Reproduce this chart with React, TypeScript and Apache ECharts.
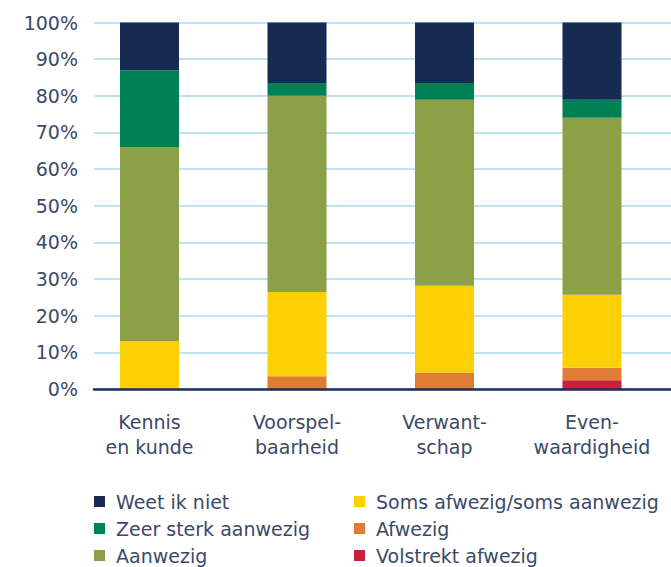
import React, { useEffect, useRef } from "react";
import * as echarts from "echarts";

const categories = ["Kennis\nen kunde", "Voorspel-\nbaarheid", "Verwant-\nschap", "Even-\nwaardigheid"];
const yTicks = [0, 10, 20, 30, 40, 50, 60, 70, 80, 90, 100];

const volstrektAfwezig = [0, 0, 0, 2.4];
const afwezig = [0, 3.5, 4.5, 3.4];
const somsAfwezig = [13, 23, 23.7, 19.9];
const aanwezig = [53, 53.5, 50.7, 48.3];
const zeerSterk = [21, 3.5, 4.6, 4.9];
const weetIkNiet = [13, 16.5, 16.5, 21.1];

const FONT = "DejaVu Sans";
const TEXT = "#3b4968";

export default function App() {
  const ref = useRef<HTMLDivElement>(null);
  useEffect(() => {
    const chart = echarts.init(ref.current!, null, { renderer: "svg" });
    const top = 22.5;
    const height = 366.5;
    const mk = (name: string, data: number[], color: string) => ({
      name,
      type: "bar",
      stack: "total",
      xAxisIndex: 1,
      yAxisIndex: 1,
      barWidth: 59,
      data,
      itemStyle: { color },
    });
    const legendText = { fontFamily: FONT, fontSize: 19, color: TEXT, lineHeight: 20, padding: [0, 0, 0, 6] };
    const legendBase = {
      orient: "vertical",
      top: 491.5,
      height: 80,
      padding: 0,
      icon: "rect",
      itemWidth: 11,
      itemHeight: 11,
      itemGap: 7,
      textStyle: legendText,
      selectedMode: false,
    };
    chart.setOption({
      animation: false,
      textStyle: { fontFamily: FONT },
      grid: [
        { left: 94, right: 0, top, height },
        { left: 75.75, width: 590, top, height },
      ],
      xAxis: [
        {
          gridIndex: 0,
          type: "category",
          data: [""],
          axisLine: { show: true, lineStyle: { color: "#1d2d55", width: 2.5 } },
          axisTick: { show: false },
          axisLabel: { show: false },
          z: 5,
        },
        {
          gridIndex: 1,
          type: "category",
          data: categories,
          axisLine: { show: false },
          axisTick: { show: false },
          axisLabel: {
            interval: 0,
            margin: 21,
            fontFamily: FONT,
            fontSize: 19,
            lineHeight: 24.5,
            color: TEXT,
          },
        },
      ],
      yAxis: [
        {
          gridIndex: 0,
          type: "value",
          min: yTicks[0],
          max: yTicks[yTicks.length - 1],
          interval: 10,
          axisLine: { show: false },
          axisTick: { show: false },
          axisLabel: {
            formatter: "{value}%",
            margin: 16,
            fontFamily: FONT,
            fontSize: 19,
            color: TEXT,
          },
          splitLine: { show: true, lineStyle: { color: "#a9daf0", width: 1.5 } },
        },
        {
          gridIndex: 1,
          type: "value",
          min: 0,
          max: 100,
          show: false,
          splitLine: { show: false },
        },
      ],
      legend: [
        { ...legendBase, left: 94, data: ["Weet ik niet", "Zeer sterk aanwezig", "Aanwezig"] },
        { ...legendBase, left: 354, data: ["Soms afwezig/soms aanwezig", "Afwezig", "Volstrekt afwezig"] },
      ],
      series: [
        mk("Volstrekt afwezig", volstrektAfwezig, "#c81f3c"),
        mk("Afwezig", afwezig, "#de7d33"),
        mk("Soms afwezig/soms aanwezig", somsAfwezig, "#fdd005"),
        mk("Aanwezig", aanwezig, "#8da047"),
        mk("Zeer sterk aanwezig", zeerSterk, "#008055"),
        mk("Weet ik niet", weetIkNiet, "#172b52"),
      ],
    });
    return () => chart.dispose();
  }, []);
  return <div ref={ref} style={{ width: 671, height: 567, position: "absolute", left: 0, top: 0 }} />;
}
